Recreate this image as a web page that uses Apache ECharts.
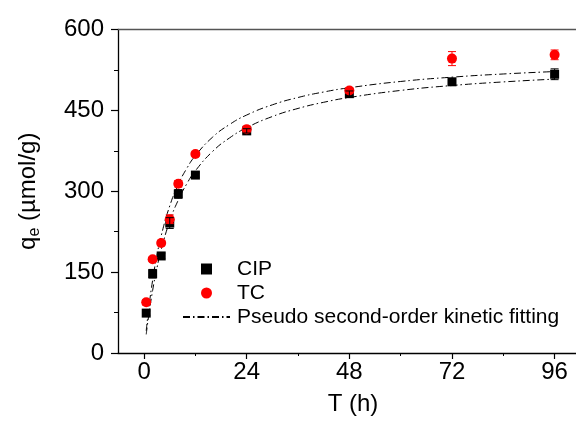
<!DOCTYPE html>
<html><head><meta charset="utf-8">
<script src="https://cdn.jsdelivr.net/npm/echarts@6/dist/echarts.min.js"></script>
<style>html,body{margin:0;padding:0;background:#fff}#c{width:576px;height:421px}</style>
</head><body><div id="c"></div>
<script>
const timeH = [0.5, 2, 4, 6, 8, 12, 24, 48, 72, 96];
const cipQ = [74, 147, 180, 241, 295, 330, 412, 481, 503, 517];
const cipErr = [4, 8, 5, 10, 8, 4, 4, 5, 5, 10];
const tcQ = [94, 174, 204, 248, 314, 369, 415, 487, 546, 553];
const tcErr = [5, 4, 5, 8, 6, 4, 6, 5, 13, 9];
const fitT = [0.5, 1, 2, 3, 4, 6, 8, 10, 12, 16, 20, 24, 30, 36, 42, 48, 60, 72, 84, 96];
const fitCIP = [34.5, 64.9, 116.1, 157.4, 191.5, 244.5, 283.7, 314.0, 338.0, 373.7, 399.0, 417.9, 438.6, 453.6, 465.0, 473.9, 487.0, 496.1, 502.8, 508.0];
const fitTC = [41.3, 76.9, 135.2, 180.8, 217.5, 272.8, 312.6, 342.6, 366.0, 400.2, 423.9, 441.4, 460.3, 473.9, 484.1, 492.0, 503.6, 511.6, 517.5, 522.0];
const xTicks = [0, 24, 48, 72, 96];
const xMinorTicks = [12, 36, 60, 84];
const yTicks = [0, 150, 300, 450, 600];
const fitName = 'Pseudo second-order kinetic fitting';

const FONT = '"Liberation Sans", Arial, sans-serif';
const chart = echarts.init(document.getElementById('c'), null, {renderer: 'canvas'});

function errItem(color) {
  return function (params, api) {
    const x = api.value(0), y = api.value(1), e = api.value(2);
    const top = api.coord([x, y + e]);
    const bot = api.coord([x, y - e]);
    const hw = 4;
    return {
      type: 'group',
      children: [
        {type: 'line', shape: {x1: top[0], y1: top[1], x2: bot[0], y2: bot[1]}, style: {stroke: color, lineWidth: 1}},
        {type: 'line', shape: {x1: top[0] - hw, y1: top[1], x2: top[0] + hw, y2: top[1]}, style: {stroke: color, lineWidth: 1}},
        {type: 'line', shape: {x1: bot[0] - hw, y1: bot[1], x2: bot[0] + hw, y2: bot[1]}, style: {stroke: color, lineWidth: 1}}
      ]
    };
  };
}

const xBase = {type: 'value', min: -6.1, max: 101, gridIndex: 0, splitLine: {show: false}};

const option = {
  animation: false,
  backgroundColor: '#fff',
  textStyle: {fontFamily: FONT},
  grid: {left: 118, right: 0, top: 29.5, bottom: 65.5, containLabel: false},
  legend: {
    orient: 'vertical', left: 182, top: 257, padding: 0, itemGap: 0,
    itemWidth: 47, itemHeight: 11,
    textStyle: {fontSize: 21, color: '#000', fontFamily: FONT, lineHeight: 24, padding: [0, 0, 0, 2]},
    data: [
      {name: 'CIP', icon: 'path://M0,0L10,0L10,10L0,10Z'},
      {name: 'TC', icon: 'circle'},
      {name: fitName, itemStyle: {opacity: 0, color: 'rgba(0,0,0,0)'}}
    ]
  },
  xAxis: [
    Object.assign({}, xBase, {
      position: 'bottom',
      name: 'T (h)', nameLocation: 'middle', nameGap: 39,
      nameTextStyle: {fontSize: 24, color: '#000', fontFamily: FONT, padding: [0, 0, 0, 12]},
      axisLine: {show: true, onZero: false, lineStyle: {color: '#000', width: 1.3}},
      axisTick: {show: true, inside: false, length: 6, customValues: xTicks, lineStyle: {color: '#000', width: 1.2}},
      axisLabel: {show: true, margin: 7, fontSize: 24, color: '#000', fontFamily: FONT, customValues: xTicks}
    }),
    Object.assign({}, xBase, {
      position: 'bottom',
      axisLine: {show: false, onZero: false},
      axisTick: {show: true, inside: false, length: 3, customValues: xMinorTicks, lineStyle: {color: '#000', width: 1}},
      axisLabel: {show: false}
    }),
    Object.assign({}, xBase, {
      position: 'top',
      axisLine: {show: true, onZero: false, lineStyle: {color: '#555', width: 1.3}},
      axisTick: {show: false},
      axisLabel: {show: false}
    })
  ],
  yAxis: [{
    type: 'value', min: 0, max: 600, interval: 150,
    name: '{a|q}{b|e}{a| (µmol/g)}', nameLocation: 'middle', nameGap: 76, nameRotate: 90,
    nameTextStyle: {
      fontFamily: FONT, color: '#000',
      rich: {
        a: {fontSize: 24, fontFamily: FONT, color: '#000', verticalAlign: 'top', lineHeight: 26},
        b: {fontSize: 16, fontFamily: FONT, color: '#000', verticalAlign: 'top', lineHeight: 18, padding: [11, 0, 0, 0]}
      }
    },
    axisLine: {show: true, onZero: false, lineStyle: {color: '#000', width: 1.3}},
    axisTick: {show: true, inside: false, length: 7, lineStyle: {color: '#000', width: 1.2}},
    minorTick: {show: true, splitNumber: 2, length: 4, lineStyle: {color: '#000', width: 1}},
    splitLine: {show: false},
    axisLabel: {margin: 14, fontSize: 24, color: '#000', fontFamily: FONT}
  }],
  series: [
    {
      name: fitName, type: 'line', xAxisIndex: 0, yAxisIndex: 0, smooth: true, symbol: 'none',
      lineStyle: {color: '#000', width: 1, type: [7, 3, 1.5, 3]}, itemStyle: {color: 'rgba(0,0,0,0)'},
      data: fitT.map((t, i) => [t, fitCIP[i]]), z: 1
    },
    {
      name: fitName, type: 'line', xAxisIndex: 0, yAxisIndex: 0, smooth: true, symbol: 'none',
      lineStyle: {color: '#000', width: 1, type: [7, 3, 1.5, 3]}, itemStyle: {color: 'rgba(0,0,0,0)'},
      data: fitT.map((t, i) => [t, fitTC[i]]), z: 1
    },
    {
      name: 'CIP', type: 'scatter', symbol: 'rect', symbolSize: 9,
      itemStyle: {color: '#000', opacity: 1},
      data: timeH.map((t, i) => [t, cipQ[i]]), z: 2
    },
    {
      name: 'TC', type: 'scatter', symbol: 'circle', symbolSize: 10,
      itemStyle: {color: '#ff0000', opacity: 1},
      data: timeH.map((t, i) => [t, tcQ[i]]), z: 3
    },
    {
      name: 'TC err', type: 'custom', renderItem: errItem('#ff0000'),
      data: timeH.map((t, i) => [t, tcQ[i], tcErr[i]]), z: 4, silent: true
    },
    {
      name: 'CIP err', type: 'custom', renderItem: errItem('#000'),
      data: timeH.map((t, i) => [t, cipQ[i], cipErr[i]]), z: 5, silent: true
    }
  ]
};
chart.setOption(option);
</script>
</body></html>
